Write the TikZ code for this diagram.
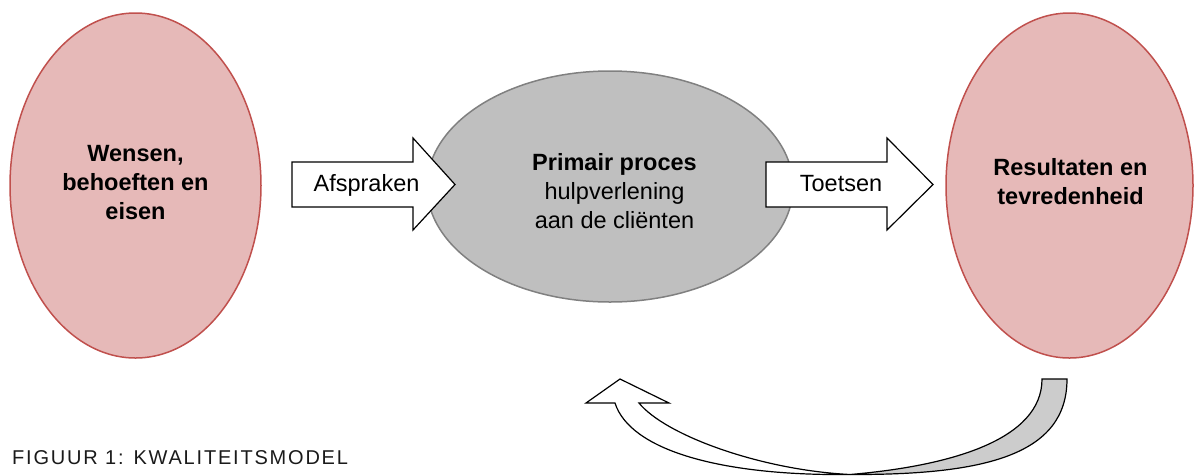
\documentclass[tikz,border=0pt]{standalone}
\usepackage{fontspec}
\setmainfont{Liberation Sans}
\usetikzlibrary{shapes.geometric}
\definecolor{pinkfill}{HTML}{E6B9B8}
\definecolor{pinkline}{HTML}{C0504D}
\definecolor{grayfill}{HTML}{BFBFBF}
\definecolor{grayline}{HTML}{808080}
\definecolor{bandgray}{HTML}{CCCCCC}
\definecolor{captext}{HTML}{1A1A1A}
\begin{document}
\begin{tikzpicture}[x=1pt,y=-1pt,
  pinkell/.style={ellipse, draw=pinkline, fill=pinkfill, line width=1.5pt, inner sep=0pt},
  grayell/.style={ellipse, draw=grayline, fill=grayfill, line width=1.5pt, inner sep=0pt},
  blockarrow/.style={draw=black, fill=white, line width=1.2pt, line join=miter},
  bandline/.style={draw=black, line width=1.2pt, line join=miter},
  bodytext/.style={font=\fontsize{23.5}{29}\selectfont, align=center, inner sep=0pt},
  boldtext/.style={font=\fontsize{23.5}{29}\selectfont\bfseries, align=center, inner sep=0pt},
  arrowtext/.style={font=\fontsize{23.5}{29}\selectfont, inner sep=0pt, anchor=base},
  captionstyle/.style={font=\fontsize{20}{24}\selectfont\addfontfeature{LetterSpace=9}, text=captext, inner sep=0pt, anchor=base west}
]
\useasboundingbox (0,0) rectangle (1194,475);

% ellipses
\node[pinkell, minimum width=251pt, minimum height=345pt] (wensen) at (135.5,185.5) {};
\node[grayell, minimum width=366pt, minimum height=231pt] (primair) at (610,186.5) {};
\node[pinkell, minimum width=247pt, minimum height=345pt] (result) at (1069.5,185.5) {};

\node[boldtext] (wensentxt) at ([yshift=3.4pt]wensen.center) {Wensen,\\behoeften en\\eisen};
\node[bodytext] (primairtxt) at ([xshift=4.5pt,yshift=-4.1pt]primair.center) {\textbf{Primair proces}\\hulpverlening\\aan de cliënten};
\node[boldtext] (resulttxt) at ([xshift=1pt,yshift=3.5pt]result.center) {Resultaten en\\tevredenheid};

% block arrows
\filldraw[blockarrow] (292,162) -- (413,162) -- (413,138) -- (455,184.5) -- (413,230) -- (413,207) -- (292,207) -- cycle;
\filldraw[blockarrow] (766,162) -- (887,162) -- (887,138) -- (933,184.5) -- (887,230) -- (887,207) -- (766,207) -- cycle;
\node[arrowtext] (afspraken) at (366.5,191) {Afspraken};
\node[arrowtext] (toetsen) at (841,191) {Toetsen};

% curved feedback arrow
\filldraw[bandline, fill=bandgray] (1042,379) -- (1067,379) .. controls (1067,455) and (985,475) .. (850,474.5) .. controls (950,466) and (1042,440) .. (1042,379) -- cycle;
\filldraw[bandline, fill=white] (850,474.5) .. controls (720,476) and (630,450) .. (615,403) -- (586,403) -- (620,379) -- (669,403) -- (639,403) .. controls (665,435) and (760,470) .. (850,474.5) -- cycle;

% caption
\node[captionstyle] (caption) at (12,464) {FIGUUR 1: KWALITEITSMODEL};
\end{tikzpicture}
\end{document}
